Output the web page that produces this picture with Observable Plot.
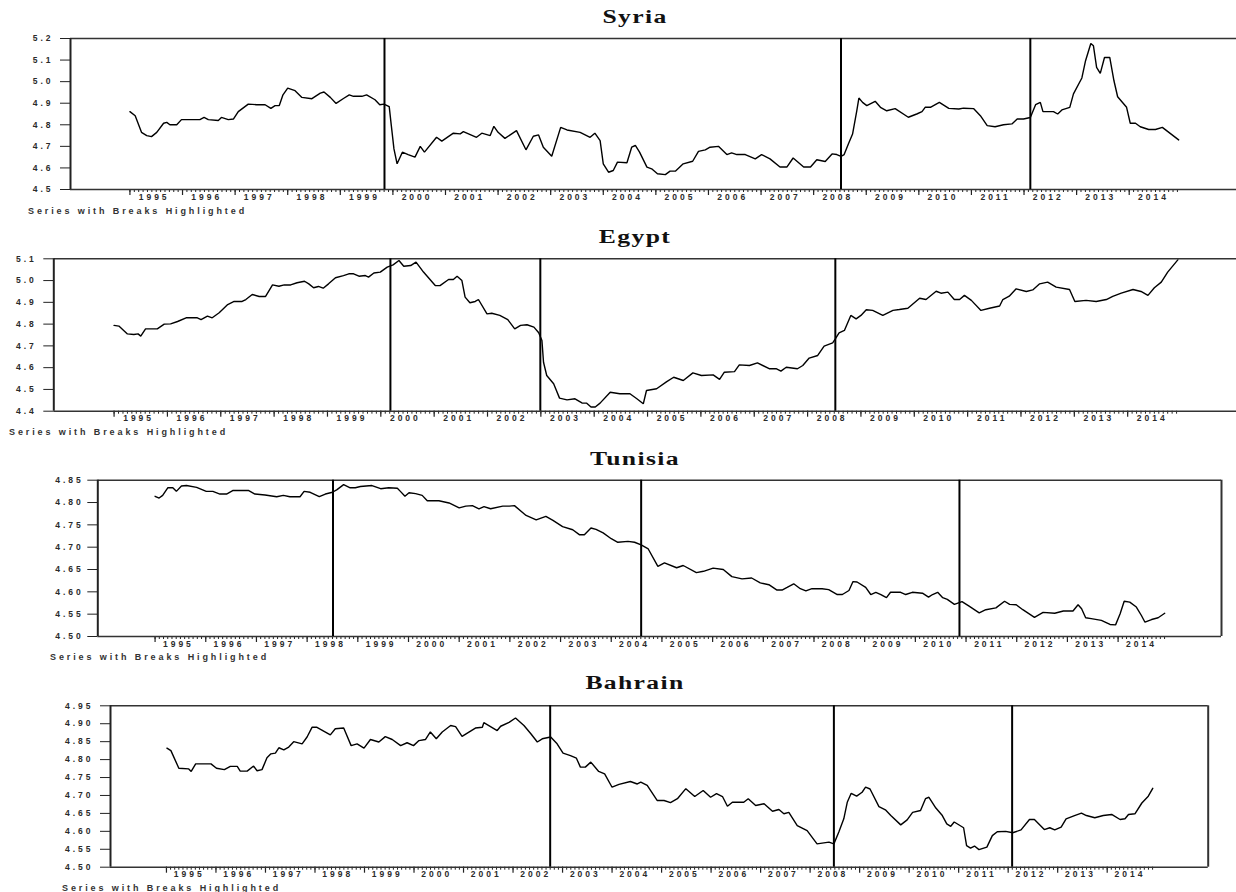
<!DOCTYPE html>
<html>
<head>
<meta charset="utf-8">
<script src="https://cdn.jsdelivr.net/npm/d3@7"></script>
<script src="https://cdn.jsdelivr.net/npm/@observablehq/plot@0.6"></script>
<style>
  html, body { margin: 0; padding: 0; background: #fff; }
  body { width: 1236px; height: 892px; overflow: hidden; position: relative; }
  .pnl { position: absolute; left: 0; overflow: visible; }
  .pnl text { font-family: "Liberation Sans", Arial, sans-serif; font-weight: bold; font-size: 8.5px; letter-spacing: 3px; fill: #2a2a2a; }
  .pnl text.ttl { font-family: "Liberation Serif", "Times New Roman", serif; font-size: 19px; letter-spacing: 1px; fill: #111; }
  .pnl text.cap { font-size: 9px; letter-spacing: 2.9px; fill: #333; }
</style>
</head>
<body>
<script>
// ---------------- data ----------------
const countries = ["Syria", "Egypt", "Tunisia", "Bahrain"];
const yearLabels = [1995,1996,1997,1998,1999,2000,2001,2002,2003,2004,2005,2006,2007,2008,2009,2010,2011,2012,2013,2014];
const captionText = "Series with Breaks Highlighted";

const syriaYTicks = [4.5,4.6,4.7,4.8,4.9,5.0,5.1,5.2];
const egyptYTicks = [4.4,4.5,4.6,4.7,4.8,4.9,5.0,5.1];
const tunisiaYTicks = [4.50,4.55,4.60,4.65,4.70,4.75,4.80,4.85];
const bahrainYTicks = [4.50,4.55,4.60,4.65,4.70,4.75,4.80,4.85,4.90,4.95];

const syriaBreaks = [1999.84, 2008.52, 2012.12];
const egyptBreaks = [2000.18, 2002.99, 2008.52];
const tunisiaBreaks = [1998.51, 2004.59, 2010.87];
const bahrainBreaks = [2002.75, 2008.48, 2012.08];

const syriaT = [1995.0,1995.1,1995.22,1995.32,1995.41,1995.51,1995.64,1995.70,1995.76,1995.89,1995.98,1996.33,1996.41,1996.49,1996.68,1996.74,1996.87,1996.97,1997.06,1997.25,1997.41,1997.57,1997.68,1997.76,1997.84,1997.91,1998.0,1998.14,1998.27,1998.46,1998.62,1998.69,1998.81,1998.92,1999.06,1999.17,1999.25,1999.41,1999.50,1999.66,1999.75,1999.83,1999.93,1999.97,2000.02,2000.08,2000.18,2000.29,2000.42,2000.52,2000.6,2000.83,2000.93,2001.15,2001.28,2001.34,2001.59,2001.69,2001.85,2001.92,2002.0,2002.13,2002.35,2002.53,2002.67,2002.77,2002.86,2003.02,2003.19,2003.31,2003.56,2003.75,2003.84,2003.94,2004.0,2004.1,2004.19,2004.27,2004.45,2004.54,2004.61,2004.69,2004.83,2004.92,2005.03,2005.18,2005.27,2005.37,2005.52,2005.70,2005.81,2005.94,2006.03,2006.19,2006.35,2006.44,2006.54,2006.70,2006.89,2007.01,2007.17,2007.36,2007.49,2007.61,2007.81,2007.94,2008.06,2008.22,2008.35,2008.44,2008.52,2008.58,2008.66,2008.74,2008.82,2008.86,2008.93,2009.01,2009.17,2009.27,2009.39,2009.55,2009.80,2009.96,2010.06,2010.12,2010.22,2010.39,2010.57,2010.76,2010.85,2011.04,2011.17,2011.30,2011.45,2011.61,2011.77,2011.87,2011.99,2012.12,2012.22,2012.31,2012.36,2012.56,2012.64,2012.72,2012.87,2012.94,2013.10,2013.17,2013.27,2013.32,2013.38,2013.45,2013.53,2013.63,2013.71,2013.78,2013.95,2014.02,2014.12,2014.21,2014.37,2014.50,2014.63,2014.94];
const syriaV = [4.861,4.842,4.765,4.75,4.745,4.765,4.807,4.811,4.80,4.80,4.824,4.824,4.834,4.824,4.82,4.834,4.824,4.827,4.861,4.896,4.893,4.893,4.876,4.889,4.889,4.939,4.97,4.958,4.927,4.921,4.947,4.952,4.927,4.899,4.922,4.939,4.932,4.932,4.939,4.916,4.893,4.896,4.884,4.796,4.688,4.619,4.673,4.662,4.65,4.70,4.673,4.742,4.724,4.761,4.758,4.768,4.742,4.761,4.75,4.793,4.765,4.737,4.773,4.684,4.747,4.753,4.696,4.654,4.788,4.776,4.765,4.742,4.761,4.727,4.619,4.58,4.588,4.627,4.624,4.696,4.704,4.673,4.604,4.596,4.573,4.569,4.585,4.585,4.619,4.631,4.677,4.684,4.696,4.70,4.662,4.67,4.662,4.662,4.642,4.662,4.642,4.604,4.604,4.646,4.604,4.604,4.638,4.63,4.665,4.662,4.654,4.662,4.711,4.757,4.865,4.924,4.904,4.889,4.909,4.881,4.865,4.875,4.835,4.85,4.861,4.881,4.881,4.904,4.876,4.873,4.877,4.875,4.842,4.796,4.791,4.80,4.804,4.827,4.827,4.834,4.893,4.904,4.861,4.861,4.85,4.869,4.881,4.943,5.017,5.097,5.177,5.166,5.066,5.038,5.112,5.112,5.004,4.93,4.881,4.807,4.807,4.791,4.778,4.778,4.788,4.73];

const egyptT = [1995.0,1995.09,1995.25,1995.37,1995.45,1995.50,1995.59,1995.81,1995.94,1996.06,1996.19,1996.35,1996.56,1996.63,1996.75,1996.84,1996.97,1997.13,1997.25,1997.40,1997.47,1997.59,1997.72,1997.84,1997.97,1998.09,1998.19,1998.31,1998.43,1998.57,1998.65,1998.74,1998.83,1998.92,1999.02,1999.15,1999.30,1999.40,1999.49,1999.59,1999.71,1999.77,1999.87,1999.99,2000.12,2000.23,2000.34,2000.43,2000.56,2000.66,2000.80,2001.02,2001.11,2001.27,2001.36,2001.43,2001.52,2001.58,2001.67,2001.77,2001.83,2001.99,2002.08,2002.23,2002.38,2002.51,2002.62,2002.74,2002.87,2002.96,2003.02,2003.05,2003.11,2003.24,2003.35,2003.49,2003.64,2003.77,2003.86,2003.94,2004.02,2004.11,2004.30,2004.48,2004.67,2004.80,2004.92,2004.98,2005.17,2005.36,2005.49,2005.67,2005.85,2006.01,2006.23,2006.35,2006.44,2006.63,2006.72,2006.91,2007.06,2007.28,2007.41,2007.50,2007.60,2007.81,2007.91,2008.03,2008.19,2008.31,2008.47,2008.52,2008.59,2008.69,2008.81,2008.91,2009.00,2009.10,2009.22,2009.41,2009.60,2009.72,2009.88,2010.10,2010.22,2010.41,2010.50,2010.63,2010.75,2010.85,2010.94,2011.07,2011.25,2011.41,2011.60,2011.66,2011.78,2011.91,2012.10,2012.22,2012.35,2012.50,2012.66,2012.91,2013.01,2013.22,2013.41,2013.60,2013.72,2013.88,2014.10,2014.25,2014.38,2014.50,2014.63,2014.75,2014.94];
const egyptV = [4.794,4.791,4.755,4.752,4.755,4.745,4.778,4.778,4.80,4.801,4.812,4.829,4.829,4.821,4.837,4.829,4.852,4.89,4.904,4.904,4.913,4.936,4.927,4.927,4.98,4.974,4.98,4.98,4.99,4.997,4.985,4.967,4.973,4.965,4.985,5.013,5.023,5.031,5.031,5.02,5.023,5.016,5.035,5.039,5.062,5.072,5.092,5.066,5.069,5.085,5.039,4.977,4.977,5.005,5.005,5.02,5.0,4.924,4.898,4.904,4.913,4.847,4.85,4.84,4.821,4.778,4.794,4.797,4.786,4.76,4.725,4.625,4.564,4.526,4.46,4.452,4.457,4.438,4.437,4.419,4.419,4.437,4.487,4.48,4.48,4.457,4.434,4.495,4.503,4.536,4.556,4.541,4.576,4.564,4.567,4.546,4.579,4.582,4.613,4.61,4.622,4.595,4.595,4.584,4.602,4.595,4.61,4.644,4.656,4.699,4.714,4.732,4.76,4.771,4.84,4.824,4.84,4.866,4.863,4.84,4.863,4.867,4.873,4.919,4.913,4.951,4.942,4.947,4.913,4.913,4.932,4.909,4.863,4.873,4.883,4.913,4.928,4.962,4.95,4.957,4.985,4.993,4.97,4.959,4.904,4.909,4.904,4.913,4.927,4.942,4.959,4.95,4.932,4.967,4.993,5.039,5.095];

const tunisiaT = [1995.0,1995.08,1995.15,1995.25,1995.35,1995.42,1995.52,1995.62,1995.82,1996.01,1996.14,1996.28,1996.41,1996.54,1996.84,1996.97,1997.17,1997.40,1997.53,1997.66,1997.86,1997.94,1998.06,1998.24,1998.36,1998.50,1998.59,1998.72,1998.85,1998.95,1999.05,1999.28,1999.45,1999.61,1999.78,1999.84,1999.93,2000.01,2000.14,2000.27,2000.37,2000.60,2000.80,2001.00,2001.13,2001.26,2001.39,2001.49,2001.62,2001.86,2001.99,2002.09,2002.32,2002.52,2002.71,2002.85,2003.04,2003.24,2003.37,2003.47,2003.60,2003.70,2003.84,2004.00,2004.13,2004.33,2004.46,2004.59,2004.73,2004.92,2005.05,2005.29,2005.42,2005.68,2005.82,2006.01,2006.21,2006.38,2006.58,2006.77,2006.94,2007.11,2007.27,2007.37,2007.47,2007.60,2007.73,2007.84,2007.96,2008.16,2008.29,2008.46,2008.56,2008.69,2008.77,2008.85,2009.02,2009.12,2009.22,2009.32,2009.43,2009.51,2009.71,2009.81,2009.94,2010.14,2010.26,2010.34,2010.44,2010.54,2010.63,2010.77,2010.92,2011.06,2011.26,2011.39,2011.59,2011.76,2011.86,2011.99,2012.12,2012.35,2012.52,2012.75,2012.92,2013.11,2013.21,2013.28,2013.36,2013.47,2013.67,2013.84,2013.95,2014.04,2014.12,2014.23,2014.36,2014.46,2014.53,2014.66,2014.79,2014.92];
const tunisiaV = [4.814,4.81,4.816,4.833,4.833,4.825,4.837,4.838,4.834,4.825,4.825,4.819,4.819,4.827,4.827,4.819,4.817,4.813,4.816,4.813,4.813,4.825,4.823,4.813,4.819,4.823,4.829,4.84,4.833,4.833,4.836,4.838,4.831,4.833,4.832,4.825,4.814,4.822,4.82,4.816,4.804,4.804,4.799,4.788,4.792,4.793,4.786,4.791,4.786,4.792,4.792,4.793,4.771,4.761,4.769,4.76,4.746,4.739,4.728,4.728,4.743,4.74,4.732,4.719,4.711,4.713,4.711,4.705,4.696,4.657,4.665,4.654,4.659,4.643,4.646,4.653,4.65,4.634,4.629,4.631,4.62,4.616,4.604,4.604,4.61,4.618,4.607,4.602,4.607,4.607,4.605,4.594,4.594,4.603,4.623,4.622,4.61,4.594,4.599,4.594,4.587,4.599,4.599,4.594,4.599,4.597,4.588,4.594,4.599,4.587,4.583,4.572,4.578,4.568,4.553,4.56,4.564,4.579,4.572,4.571,4.56,4.543,4.554,4.552,4.557,4.557,4.571,4.562,4.542,4.54,4.536,4.527,4.526,4.551,4.579,4.577,4.566,4.547,4.532,4.538,4.542,4.552];

const bahrainT = [1995.01,1995.09,1995.25,1995.45,1995.50,1995.59,1995.90,1996.01,1996.17,1996.29,1996.43,1996.49,1996.63,1996.76,1996.83,1996.93,1997.03,1997.11,1997.20,1997.27,1997.37,1997.47,1997.57,1997.74,1997.84,1997.94,1998.04,1998.31,1998.41,1998.58,1998.73,1998.85,1998.99,1999.12,1999.29,1999.42,1999.56,1999.73,1999.86,1999.99,2000.10,2000.23,2000.33,2000.45,2000.57,2000.74,2000.84,2000.97,2001.24,2001.38,2001.41,2001.68,2001.75,2001.92,2002.05,2002.22,2002.36,2002.49,2002.59,2002.76,2002.89,2003.01,2003.16,2003.28,2003.36,2003.46,2003.57,2003.73,2003.85,2004.00,2004.14,2004.37,2004.51,2004.58,2004.71,2004.91,2005.05,2005.18,2005.32,2005.49,2005.67,2005.84,2005.99,2006.11,2006.23,2006.33,2006.43,2006.66,2006.75,2006.90,2007.07,2007.24,2007.37,2007.47,2007.57,2007.74,2007.94,2008.14,2008.38,2008.48,2008.58,2008.68,2008.75,2008.83,2008.94,2009.05,2009.12,2009.21,2009.39,2009.52,2009.63,2009.83,2009.96,2010.07,2010.23,2010.33,2010.40,2010.54,2010.67,2010.76,2010.84,2010.91,2011.10,2011.16,2011.24,2011.32,2011.41,2011.57,2011.68,2011.78,2011.95,2012.09,2012.26,2012.43,2012.53,2012.73,2012.84,2012.94,2013.07,2013.17,2013.34,2013.48,2013.58,2013.75,2013.92,2014.09,2014.26,2014.36,2014.43,2014.56,2014.70,2014.83,2014.92];
const bahrainV = [4.832,4.825,4.776,4.774,4.767,4.788,4.788,4.776,4.772,4.781,4.781,4.768,4.768,4.782,4.769,4.772,4.805,4.816,4.818,4.833,4.827,4.835,4.85,4.844,4.863,4.89,4.89,4.869,4.886,4.888,4.839,4.844,4.832,4.856,4.849,4.864,4.856,4.839,4.847,4.839,4.853,4.856,4.877,4.858,4.877,4.895,4.892,4.865,4.888,4.89,4.903,4.881,4.893,4.904,4.916,4.895,4.872,4.849,4.858,4.863,4.844,4.818,4.811,4.804,4.779,4.779,4.793,4.767,4.76,4.723,4.731,4.739,4.732,4.737,4.728,4.686,4.686,4.68,4.691,4.719,4.697,4.714,4.695,4.705,4.697,4.67,4.681,4.681,4.691,4.672,4.677,4.656,4.661,4.649,4.653,4.616,4.602,4.565,4.57,4.565,4.598,4.635,4.681,4.706,4.698,4.709,4.723,4.718,4.669,4.66,4.644,4.618,4.632,4.653,4.658,4.691,4.695,4.665,4.644,4.621,4.614,4.626,4.61,4.56,4.553,4.559,4.549,4.556,4.588,4.599,4.6,4.596,4.604,4.633,4.633,4.605,4.61,4.604,4.612,4.635,4.644,4.651,4.644,4.638,4.644,4.647,4.633,4.635,4.647,4.649,4.679,4.698,4.72];

// ---------------- layout ----------------
const xDomain = [1993.87, 2016.04];
const monthTicks = d3.range(0, 240).map(i => 1995 + i / 12);

const panels = [
  {name: countries[0], t: syriaT, v: syriaV, yTicks: syriaYTicks, dec: 1, breaks: syriaBreaks,
   top: 0, h: 222, frameTop: 38, frameBottom: 189, left: 70, right: 1236, rightRule: false, pad: 7,
   titleY: 22.7, capX: 28, capY: 214},
  {name: countries[1], t: egyptT, v: egyptV, yTicks: egyptYTicks, dec: 1, breaks: egyptBreaks,
   top: 222, h: 218, frameTop: 258.3, frameBottom: 410.7, left: 53.3, right: 1236, rightRule: false, pad: 7,
   titleY: 243, capX: 9, capY: 435},
  {name: countries[2], t: tunisiaT, v: tunisiaV, yTicks: tunisiaYTicks, dec: 2, breaks: tunisiaBreaks,
   top: 440, h: 224, frameTop: 479.7, frameBottom: 636, left: 97.3, right: 1221, rightRule: true, pad: 4,
   titleY: 465, capX: 50, capY: 660},
  {name: countries[3], t: bahrainT, v: bahrainV, yTicks: bahrainYTicks, dec: 2, breaks: bahrainBreaks,
   top: 664, h: 228, frameTop: 705.3, frameBottom: 866.7, left: 110, right: 1207.7, rightRule: true, pad: 7,
   titleY: 689, capX: 62, capY: 891}
];

for (const p of panels) {
  const data = p.t.map((t, i) => ({t, v: p.v[i]}));
  const yDomain = [p.yTicks[0], p.yTicks[p.yTicks.length - 1]];
  const marks = [
    Plot.axisY(p.yTicks, {tickSize: 10, tickPadding: p.pad, tickFormat: d => d.toFixed(p.dec), stroke: "#222"}),
    Plot.axisX(monthTicks, {tickSize: 3, tickFormat: () => "", stroke: "#222"}),
    Plot.axisX(yearLabels, {tickSize: 6, tickFormat: () => "", stroke: "#222", strokeWidth: 1.2}),
    Plot.axisX(yearLabels.map(y => y + 0.46), {tickSize: 0, tickPadding: 4, tickFormat: d => String(Math.floor(d))}),
    Plot.ruleY([yDomain[1]], {stroke: "#333", strokeWidth: 1.5}),
    Plot.ruleY([yDomain[0]], {stroke: "#333", strokeWidth: 1.5}),
    Plot.ruleX([xDomain[0]], {stroke: "#222", strokeWidth: 2}),
    Plot.ruleX(p.breaks, {stroke: "#000", strokeWidth: 2}),
    Plot.line(data, {x: "t", y: "v", stroke: "#000", strokeWidth: 1.4, strokeLinejoin: "miter"})
  ];
  if (p.rightRule) marks.push(Plot.ruleX([xDomain[1]], {stroke: "#333", strokeWidth: 2}));
  const svg = Plot.plot({
    width: 1236,
    height: p.h,
    marginTop: p.frameTop - p.top,
    marginBottom: p.top + p.h - p.frameBottom,
    marginLeft: p.left,
    marginRight: 1236 - p.right,
    className: "pnl",
    style: {background: "transparent", color: "#222", overflow: "visible"},
    x: {domain: xDomain, label: null},
    y: {domain: yDomain, label: null},
    marks
  });
  svg.style.position = "absolute";
  svg.style.top = p.top + "px";
  svg.style.left = "0px";
  const s = d3.select(svg);
  s.append("text").attr("class", "ttl")
    .attr("transform", `translate(635,${p.titleY - p.top}) scale(1.35,1)`)
    .attr("text-anchor", "middle").text(p.name);
  s.append("text").attr("class", "cap").attr("x", p.capX).attr("y", p.capY - p.top)
    .attr("text-anchor", "start").text(captionText);
  document.body.appendChild(svg);
}
</script>
</body>
</html>
